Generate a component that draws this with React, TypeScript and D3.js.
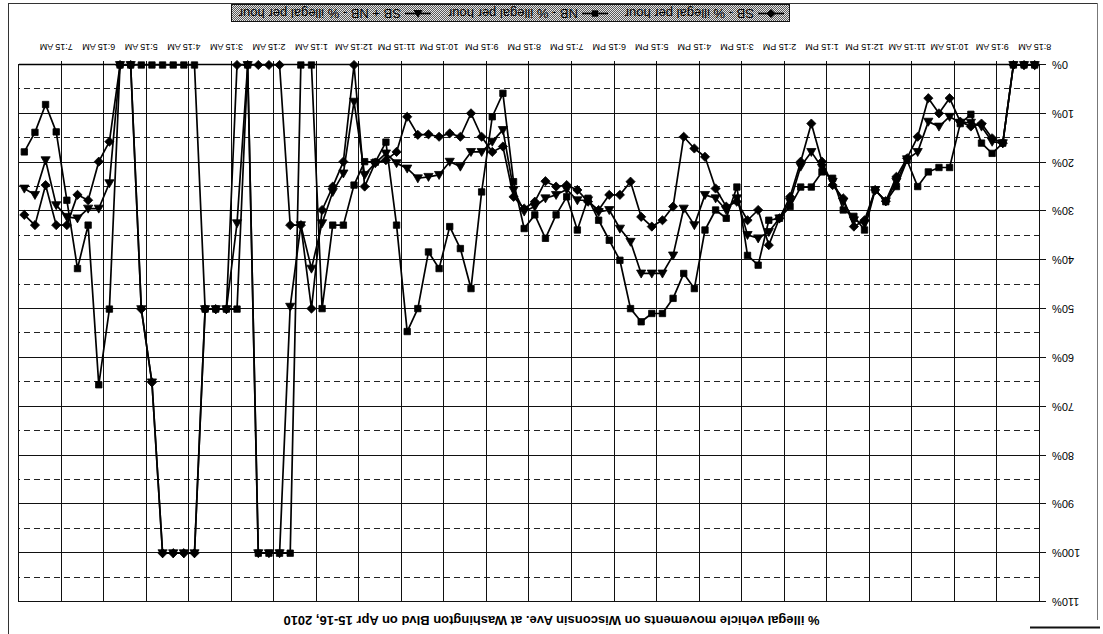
import React from "react";
import * as d3 from "d3";

// Hourly tick labels (every 4th 15-minute slot), starting 8:15 AM Apr 15
const tickLabels = [
  "8:15 AM", "9:15 AM", "10:15 AM", "11:15 AM", "12:15 PM", "1:15 PM", "2:15 PM", "3:15 PM",
  "4:15 PM", "5:15 PM", "6:15 PM", "7:15 PM", "8:15 PM", "9:15 PM", "10:15 PM", "11:15 PM",
  "12:15 AM", "1:15 AM", "2:15 AM", "3:15 AM", "4:15 AM", "5:15 AM", "6:15 AM", "7:15 AM",
];
const yTicks = [0, 10, 20, 30, 40, 50, 60, 70, 80, 90, 100, 110];
const yMinor = [5, 15, 25, 35, 45, 55, 65, 75, 85, 95, 105];

const seriesNames = [
  "SB - % illegal per hour",
  "NB - % illegal per hour",
  "SB + NB - % illegal per hour",
];

const sb = [
  0, 0, 0, 16, 15, 12, 12.6, 11.6, 6.8, 9.9, 6.8, 14.7, 19.1, 22.9, 27.9, 25.6,
  31.8, 33.1, 27.3, 24.6, 19.8, 12, 19.8, 27, 31.4, 36.9, 29.7, 31.8, 28, 29, 25.3, 18.8,
  17.1, 14.7, 29, 31.8, 33.1, 31.1, 23.9, 26.6, 26.6, 29.7, 28, 25.6, 24.6, 24.9, 23.8, 28,
  29.4, 27, 16.7, 17.8, 14.7, 9.9, 14.7, 14, 14.7, 14.2, 14.3, 10.6, 17.8, 19.5, 20, 24.9,
  0, 19.8, 24.9, 29.7, 49.9, 32.8, 32.8, 0, 0, 0, 0, 0, 50, 50, 50, 100,
  100, 100, 100, 65, 50, 0, 0, 15.7, 19.8, 27.7, 26.6, 32.8, 32.8, 24.6, 32.8, 30.7,
];
const nb = [
  0, 0, 0, 16, 18.1, 16, 10.1, 12, 21, 21, 21.9, 24.9, 19.5, 24.9, 28, 25.6,
  33.8, 31, 29.7, 23.2, 21.9, 25, 25, 29, 31.4, 31.8, 41, 39, 25, 31.4, 29.7, 33.8,
  45.8, 42.7, 47.8, 50.9, 50.9, 52.6, 49.9, 40, 35.9, 31.8, 27.3, 33.8, 27, 30.7, 35.5, 30.7,
  33.5, 23.9, 5.8, 10.6, 26, 45.8, 37.6, 33.1, 41.7, 38.3, 49.9, 54.6, 32.8, 15.8, 19.9, 19.8,
  24.6, 32.8, 32.8, 49.9, 0, 0, 100, 100, 100, 100, 0, 50, 50, 50, 50, 0,
  0, 0, 0, 0, 0, 0, 0, 50, 65.5, 32.8, 41.7, 27.7, 13.7, 8.1, 13.8, 17.8,
];
const both = [
  0, 0, 0, 16, 15.7, 12.6, 11.8, 11.8, 10.6, 12.6, 11.6, 17.8, 19.3, 23.9, 27.9, 25.6,
  32.5, 31.8, 28, 23.9, 21, 17.8, 20.8, 28, 31.4, 34.2, 35.5, 34.8, 27.3, 29.7, 27.3, 26.6,
  32.8, 29.4, 39, 42.7, 42.7, 42.7, 36.2, 33.5, 29.7, 30.1, 27.7, 27.7, 25.5, 26.6, 27.3, 29,
  30, 25.6, 13.3, 15.7, 17.8, 17.8, 20.8, 19.8, 22.5, 22.9, 23.2, 21.2, 20.1, 18.1, 20.1, 22.5,
  7.5, 22.2, 26, 32.4, 41.7, 32.8, 49.5, 100, 100, 100, 0, 32.4, 50, 50, 50, 100,
  100, 100, 100, 65, 50, 0, 0, 24.2, 29.4, 29.4, 31.4, 31.1, 28.7, 19.5, 26.6, 25.3,
];

const title =
  "% illegal vehicle movements on Wisconsin Ave. at Washington Blvd on Apr 15-16, 2010";

const W = 1103;
const H = 634;
const FONT = "'Liberation Sans', Arial, Helvetica, sans-serif";

type MarkerKind = "diamond" | "square" | "triangle";
const kinds: MarkerKind[] = ["diamond", "square", "triangle"];

function markerPath(kind: MarkerKind, x: number, y: number): string {
  if (kind === "diamond") {
    const r = 4.6;
    return `M${x},${y - r}L${x + r},${y}L${x},${y + r}L${x - r},${y}Z`;
  }
  if (kind === "square") {
    const r = 3.2;
    return `M${x - r},${y - r}H${x + r}V${y + r}H${x - r}Z`;
  }
  return `M${x},${y - 4.6}L${x + 4.6},${y + 3.4}L${x - 4.6},${y + 3.4}Z`;
}

export default function App() {
  const n = sb.length;
  const x = d3
    .scaleBand<number>()
    .domain(d3.range(n))
    .range([63, 1084])
    .paddingInner(0)
    .paddingOuter(0);
  const bw = x.bandwidth();
  const cx = (i: number) => (x(i) as number) + bw / 2;
  const y = d3.scaleLinear().domain([0, 110]).range([569, 32]);
  const [plotL, plotR] = x.range();
  const plotB = y(0);
  const plotT = y(110);

  const line = d3
    .line<number>()
    .x((_, i) => cx(i))
    .y((d) => y(d));

  const allSeries = [sb, nb, both];

  const boundaries = d3.range(4, n, 4).map((i) => x(i) as number);
  const tickIdx = tickLabels.map((_, k) => k * 4);

  // legend layout (original orientation)
  const legX = 313;
  const legY = 612;
  const legW = 558;
  const legH = 17;
  const textW = [130, 131, 163];
  const legItems: { sx: number; tx: number }[] = [];
  {
    let cur = legX + 6;
    for (let k = 0; k < 3; k++) {
      legItems.push({ sx: cur, tx: cur + 30 });
      cur += 30 + textW[k] + 16;
    }
  }

  return (
    <svg
      width={W}
      height={H}
      style={{ position: "absolute", left: 0, top: 0, display: "block", background: "#fff" }}
      fontFamily={FONT}
    >
      <defs>
        <pattern id="ht" width="2" height="2" patternUnits="userSpaceOnUse">
          <rect width="2" height="2" fill="#e4e4e4" />
          <rect width="1" height="1" fill="#5a5a5a" />
          <rect x="1" y="1" width="1" height="1" fill="#5a5a5a" />
        </pattern>
      </defs>
      <rect width={W} height={H} fill="#fff" />
      {/* scanned page frame */}
      <line x1={8.5} y1={3} x2={8.5} y2={634} stroke="#333" strokeWidth={1} />
      <line x1={8} y1={3.5} x2={1098} y2={3.5} stroke="#333" strokeWidth={1} />
      <line x1={1097.5} y1={3} x2={1097.5} y2={620} stroke="#777" strokeWidth={1} />
      <line x1={1030} y1={627.5} x2={1100} y2={627.5} stroke="#111" strokeWidth={2} />

      <g transform={`rotate(180 ${W / 2} ${H / 2})`}>
        {/* minor dashed gridlines */}
        {yMinor.map((v) => (
          <line
            key={"m" + v}
            x1={plotL}
            x2={plotR}
            y1={Math.round(y(v)) + 0.5}
            y2={Math.round(y(v)) + 0.5}
            stroke="#222"
            strokeWidth={1}
            strokeDasharray="6,4"
          />
        ))}
        {/* major gridlines + ticks */}
        {yTicks.map((v) => (
          <line
            key={"g" + v}
            x1={plotL - 6}
            x2={plotR}
            y1={Math.round(y(v)) + 0.5}
            y2={Math.round(y(v)) + 0.5}
            stroke="#111"
            strokeWidth={1}
          />
        ))}
        {/* vertical gridlines */}
        {boundaries.map((bx, k) => (
          <line
            key={"v" + k}
            x1={Math.round(bx) + 0.5}
            x2={Math.round(bx) + 0.5}
            y1={plotT}
            y2={plotB + 4}
            stroke="#111"
            strokeWidth={1}
          />
        ))}
        {/* plot border */}
        <rect
          x={plotL + 0.5}
          y={plotT + 0.5}
          width={plotR - plotL}
          height={plotB - plotT}
          fill="none"
          stroke="#111"
          strokeWidth={1}
        />
        <line x1={plotL} x2={plotR} y1={plotB + 0.5} y2={plotB + 0.5} stroke="#000" strokeWidth={1.6} />

        {/* y labels */}
        {yTicks.map((v) => (
          <text
            key={"yl" + v}
            x={51}
            y={y(v)}
            textAnchor="end"
            dominantBaseline="central"
            fontSize={11}
            fill="#000"
          >
            {v + "%"}
          </text>
        ))}
        {/* x labels */}
        {tickIdx.map((i, k) => (
          <text
            key={"xl" + k}
            x={cx(i)}
            y={587}
            textAnchor="middle"
            dominantBaseline="central"
            fontSize={9}
            fill="#000"
          >
            {tickLabels[k]}
          </text>
        ))}

        {/* series */}
        {allSeries.map((s, si) => (
          <g key={"s" + si}>
            <path d={line(s) || ""} fill="none" stroke="#000" strokeWidth={1.7} strokeLinejoin="round" />
            {s.map((v, i) => (
              <path key={i} d={markerPath(kinds[si], cx(i), y(v))} fill="#000" stroke="#000" strokeWidth={0.8} />
            ))}
          </g>
        ))}

        {/* title */}
        <text x={551.5} y={14} textAnchor="middle" dominantBaseline="central" fontSize={13} fontWeight="bold" fill="#000">
          {title}
        </text>

        {/* legend */}
        <rect x={legX + 0.5} y={legY + 0.5} width={legW} height={legH} fill="url(#ht)" stroke="#111" strokeWidth={1} />
        {legItems.map((it, k) => (
          <g key={"lg" + k}>
            <line x1={it.sx} x2={it.sx + 26} y1={legY + legH / 2} y2={legY + legH / 2} stroke="#000" strokeWidth={1.7} />
            <path d={markerPath(kinds[k], it.sx + 13, legY + legH / 2)} fill="#000" />
            <text x={it.tx} y={legY + legH / 2 + 0.5} dominantBaseline="central" fontSize={13} fill="#000">
              {seriesNames[k]}
            </text>
          </g>
        ))}
      </g>
    </svg>
  );
}
